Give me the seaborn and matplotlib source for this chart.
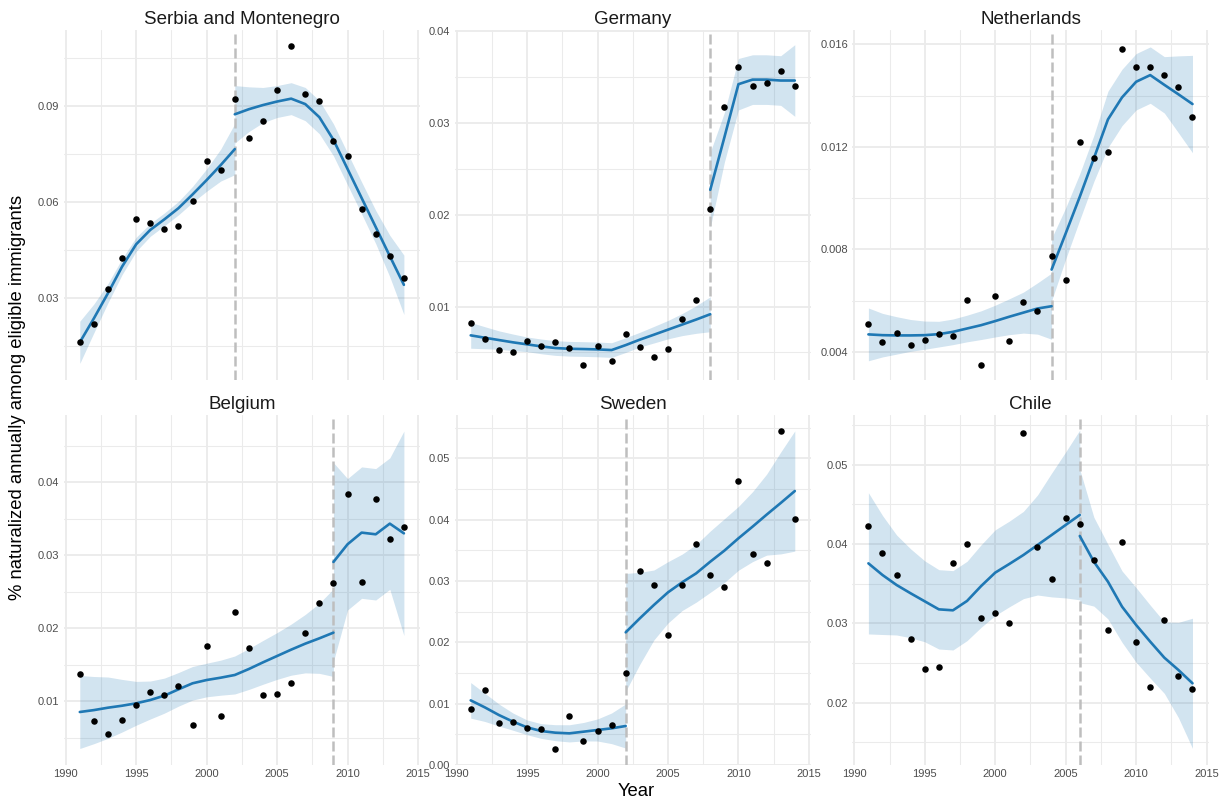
import matplotlib
matplotlib.use("Agg")
import matplotlib.pyplot as plt
from matplotlib.ticker import MultipleLocator, FormatStrFormatter
import seaborn as sns
import numpy as np

# ---------------- data ----------------
years = list(range(1991, 2015))

countries = ["Serbia and Montenegro", "Germany", "Netherlands", "Belgium", "Sweden", "Chile"]
break_years = [2002, 2008, 2004, 2009, 2002, 2006]

serbia_pts = [0.0162, 0.0217, 0.0328, 0.0423, 0.0547, 0.0533, 0.0515, 0.0525, 0.0604, 0.0728,
              0.0699, 0.0921, 0.0801, 0.0852, 0.0951, 0.1088, 0.0938, 0.0916, 0.0789, 0.0743,
              0.0579, 0.0500, 0.0430, 0.0360]
germany_pts = [0.00817, 0.00646, 0.00522, 0.00507, 0.00620, 0.00573, 0.00617, 0.00551, 0.00365, 0.00566,
               0.00405, 0.00697, 0.00562, 0.00453, 0.00533, 0.00868, 0.01076, 0.02064, 0.03169, 0.03603,
               0.03402, 0.03428, 0.03566, 0.03400]
netherlands_pts = [0.00507, 0.00438, 0.00475, 0.00425, 0.00447, 0.00470, 0.00461, 0.00604, 0.00348, 0.00616,
                   0.00442, 0.00594, 0.00560, 0.00773, 0.00682, 0.01219, 0.01156, 0.01181, 0.01582, 0.01513,
                   0.01510, 0.01479, 0.01435, 0.01318]
belgium_pts = [0.01374, 0.00735, 0.00548, 0.00749, 0.00950, 0.01123, 0.01082, 0.01210, 0.00676, 0.01753,
               0.00799, 0.02228, 0.01726, 0.01082, 0.01096, 0.01256, 0.01932, 0.02347, 0.02616, 0.03845,
               0.02635, 0.03772, 0.03228, 0.03388]
sweden_pts = [0.00913, 0.01217, 0.00679, 0.00707, 0.00598, 0.00582, 0.00261, 0.00804, 0.00386, 0.00549,
              0.00658, 0.01500, 0.03158, 0.02940, 0.02114, 0.02940, 0.03598, 0.03098, 0.02908, 0.04625,
              0.03446, 0.03288, 0.05446, 0.04005]
chile_pts = [0.04223, 0.03891, 0.03605, 0.02807, 0.02420, 0.02445, 0.03765, 0.04000, 0.03067, 0.03126,
             0.03000, 0.05395, 0.03958, 0.03555, 0.04332, 0.04256, 0.03798, 0.02912, 0.04025, 0.02769,
             0.02197, 0.03042, 0.02340, 0.02172]

# smoothed fits (before / after break) and half-width of the confidence band
serbia_fit1 = [0.0160, 0.0235, 0.0314, 0.0397, 0.0467, 0.0512, 0.0545, 0.0580, 0.0623, 0.0668, 0.0715, 0.0765]
serbia_hw1 = [0.0066, 0.0045, 0.0030, 0.0025, 0.0022, 0.0020, 0.0020, 0.0021, 0.0025, 0.0035, 0.0050, 0.0080]
serbia_fit2 = [0.0874, 0.0890, 0.0903, 0.0914, 0.0923, 0.0906, 0.0865, 0.0794, 0.0703, 0.0612, 0.0521, 0.0430, 0.0340]
serbia_hw2 = [0.0090, 0.0070, 0.0055, 0.0050, 0.0050, 0.0052, 0.0052, 0.0050, 0.0050, 0.0050, 0.0052, 0.0065, 0.0093]

germany_fit1 = [0.00686, 0.00660, 0.00635, 0.00610, 0.00588, 0.00566, 0.00548, 0.00540, 0.00537, 0.00533,
                0.00526, 0.00580, 0.00639, 0.00693, 0.00748, 0.00803, 0.00858, 0.00916]
germany_hw1 = [0.0014, 0.0012, 0.0010, 0.0009, 0.0008, 0.0008, 0.0008, 0.0008, 0.0008, 0.0008,
               0.0008, 0.0008, 0.0008, 0.0009, 0.0010, 0.0012, 0.0015, 0.0019]
germany_fit2 = [0.0227, 0.0284, 0.0342, 0.0347, 0.0347, 0.0346, 0.0346]
germany_hw2 = [0.0041, 0.0027, 0.0028, 0.0027, 0.0027, 0.0027, 0.0039]

netherlands_fit1 = [0.00468, 0.00465, 0.00464, 0.00464, 0.00465, 0.00469, 0.00478, 0.00491, 0.00504, 0.00520,
                    0.00537, 0.00553, 0.00569, 0.00578]
netherlands_hw1 = [0.00103, 0.00085, 0.00073, 0.00062, 0.00055, 0.00050, 0.00050, 0.00052, 0.00056, 0.00062,
                   0.00070, 0.00080, 0.00100, 0.00129]
netherlands_fit2 = [0.00721, 0.00862, 0.01005, 0.01155, 0.01307, 0.01393, 0.01454, 0.01480, 0.01442, 0.01405, 0.01367]
netherlands_hw2 = [0.00122, 0.00100, 0.00090, 0.00090, 0.00110, 0.00110, 0.00110, 0.00110, 0.00110, 0.00150, 0.00190]

belgium_fit1 = [0.00854, 0.00880, 0.00913, 0.00940, 0.00973, 0.01018, 0.01078, 0.01164, 0.01247, 0.01292,
                0.01324, 0.01361, 0.01443, 0.01534, 0.01621, 0.01708, 0.01790, 0.01863, 0.01941]
belgium_hw1 = [0.0050, 0.0046, 0.0042, 0.0036, 0.0030, 0.0026, 0.0024, 0.0023, 0.0023, 0.0023,
               0.0024, 0.0026, 0.0028, 0.0030, 0.0032, 0.0035, 0.0040, 0.0048, 0.0060]
belgium_fit2 = [0.02909, 0.03151, 0.03311, 0.03288, 0.03434, 0.03301]
belgium_hw2 = [0.0136, 0.0090, 0.0090, 0.0090, 0.0090, 0.0140]

sweden_fit1 = [0.01054, 0.00940, 0.00815, 0.00707, 0.00614, 0.00554, 0.00527, 0.00516, 0.00543, 0.00571, 0.00598, 0.00636]
sweden_hw1 = [0.0029, 0.0023, 0.0018, 0.0014, 0.0012, 0.0012, 0.0013, 0.0014, 0.0015, 0.0018, 0.0025, 0.0036]
sweden_fit2 = [0.02163, 0.02391, 0.02609, 0.02815, 0.02978, 0.03125, 0.03315, 0.03495, 0.03696, 0.03886,
               0.04082, 0.04272, 0.04467]
sweden_hw2 = [0.0096, 0.0075, 0.0057, 0.0050, 0.0046, 0.0047, 0.0050, 0.0052, 0.0052, 0.0057, 0.0066, 0.0083, 0.0098]

chile_fit1 = [0.03756, 0.03609, 0.03483, 0.03378, 0.03277, 0.03176, 0.03164, 0.03282, 0.03470, 0.03639,
              0.03748, 0.03861, 0.03987, 0.04113, 0.04240, 0.04366]
chile_hw1 = [0.0089, 0.0075, 0.0063, 0.0056, 0.0051, 0.0050, 0.0050, 0.0050, 0.0052, 0.0054,
             0.0054, 0.0055, 0.0063, 0.0078, 0.0092, 0.0107]
chile_fit2 = [0.04101, 0.03777, 0.03525, 0.03210, 0.02979, 0.02769, 0.02567, 0.02412, 0.02244]
chile_hw2 = [0.0084, 0.0056, 0.0047, 0.0045, 0.0047, 0.0046, 0.0045, 0.0060, 0.0082]

x_ticks = [1990, 1995, 2000, 2005, 2010, 2015]
x_tick_labels = ["1990", "1995", "2000", "2005", "2010", "2015"]

points = [serbia_pts, germany_pts, netherlands_pts, belgium_pts, sweden_pts, chile_pts]
fits1 = [serbia_fit1, germany_fit1, netherlands_fit1, belgium_fit1, sweden_fit1, chile_fit1]
hws1 = [serbia_hw1, germany_hw1, netherlands_hw1, belgium_hw1, sweden_hw1, chile_hw1]
fits2 = [serbia_fit2, germany_fit2, netherlands_fit2, belgium_fit2, sweden_fit2, chile_fit2]
hws2 = [serbia_hw2, germany_hw2, netherlands_hw2, belgium_hw2, sweden_hw2, chile_hw2]

# ---------------- styling ----------------
ylims = [(0.0042, 0.1138), (0.0020, 0.0401), (0.0029, 0.01656),
         (0.00128, 0.04922), (0.0, 0.05707), (0.01214, 0.05626)]
ymajor = [0.03, 0.01, 0.004, 0.01, 0.01, 0.01]
yfmt = ["%.2f", "%.2f", "%.3f", "%.2f", "%.2f", "%.2f"]

sns.set_style("white")
plt.rcParams["font.family"] = ["Liberation Sans", "DejaVu Sans"]

W, H = 1225, 802
fig = plt.figure(figsize=(W / 100, H / 100), dpi=100)
fig.patch.set_facecolor("white")

col_left = [63.6, 454.5, 852.2]
col_w = 356.5
row_top = [30, 415]
row_h = 350

line_col = "#1F78B4"
grid_col = "#EBEBEB"
txt_col = "#4D4D4D"

for i, name in enumerate(countries):
    r, c = divmod(i, 3)
    ax = fig.add_axes([col_left[c] / W, 1 - (row_top[r] + row_h) / H, col_w / W, row_h / H])
    ax.set_facecolor("white")
    for s in ax.spines.values():
        s.set_visible(False)

    b = break_years[i]
    yrs1 = [y for y in years if y <= b]
    yrs2 = [y for y in years if y >= b]
    f1, h1 = np.array(fits1[i]), np.array(hws1[i])
    f2, h2 = np.array(fits2[i]), np.array(hws2[i])

    ax.fill_between(yrs1, f1 - h1, f1 + h1, color=line_col, alpha=0.2, linewidth=0, zorder=2)
    ax.fill_between(yrs2, f2 - h2, f2 + h2, color=line_col, alpha=0.2, linewidth=0, zorder=2)
    ax.axvline(b, color="#BEBEBE", linewidth=1.8, linestyle=(0, (4, 1.6)), zorder=3)
    sns.lineplot(x=yrs1, y=fits1[i], color=line_col, linewidth=1.9, ax=ax, zorder=4)
    sns.lineplot(x=yrs2, y=fits2[i], color=line_col, linewidth=1.9, ax=ax, zorder=4)
    sns.scatterplot(x=years, y=points[i], color="black", s=22, linewidth=0, ax=ax, zorder=5)

    ax.set_xlim(1989.85, 2015.15)
    ax.set_ylim(*ylims[i])
    ax.xaxis.set_major_locator(MultipleLocator(5))
    ax.xaxis.set_minor_locator(MultipleLocator(2.5))
    ax.yaxis.set_major_locator(MultipleLocator(ymajor[i]))
    ax.yaxis.set_minor_locator(MultipleLocator(ymajor[i] / 2))
    ax.yaxis.set_major_formatter(FormatStrFormatter(yfmt[i]))
    ax.grid(True, which="major", color=grid_col, linewidth=1.3, zorder=0)
    ax.grid(True, which="minor", color=grid_col, linewidth=0.75, zorder=0)
    ax.set_axisbelow(True)
    ax.tick_params(which="both", length=0)
    ax.tick_params(axis="y", labelsize=8, labelcolor=txt_col, pad=3)
    ax.tick_params(axis="x", labelsize=8, labelcolor=txt_col, pad=3)
    if r == 0:
        ax.set_xticks(x_ticks)
        ax.set_xticklabels([])
    else:
        ax.set_xticks(x_ticks)
        ax.set_xticklabels(x_tick_labels)
    ax.set_xlabel("")
    ax.set_ylabel("")
    ax.set_title(name, fontsize=13.5, color="#1A1A1A", pad=4)

fig.text(636 / W, 1 - 791 / H, "Year", fontsize=13.3, ha="center", va="center", color="black")
fig.text(18 / W, 1 - 397.5 / H, "% naturalized annually among eligible immigrants",
         fontsize=13.3, rotation=90, ha="center", va="center", color="black")

fig.savefig("out.png", dpi=100, facecolor="white")
